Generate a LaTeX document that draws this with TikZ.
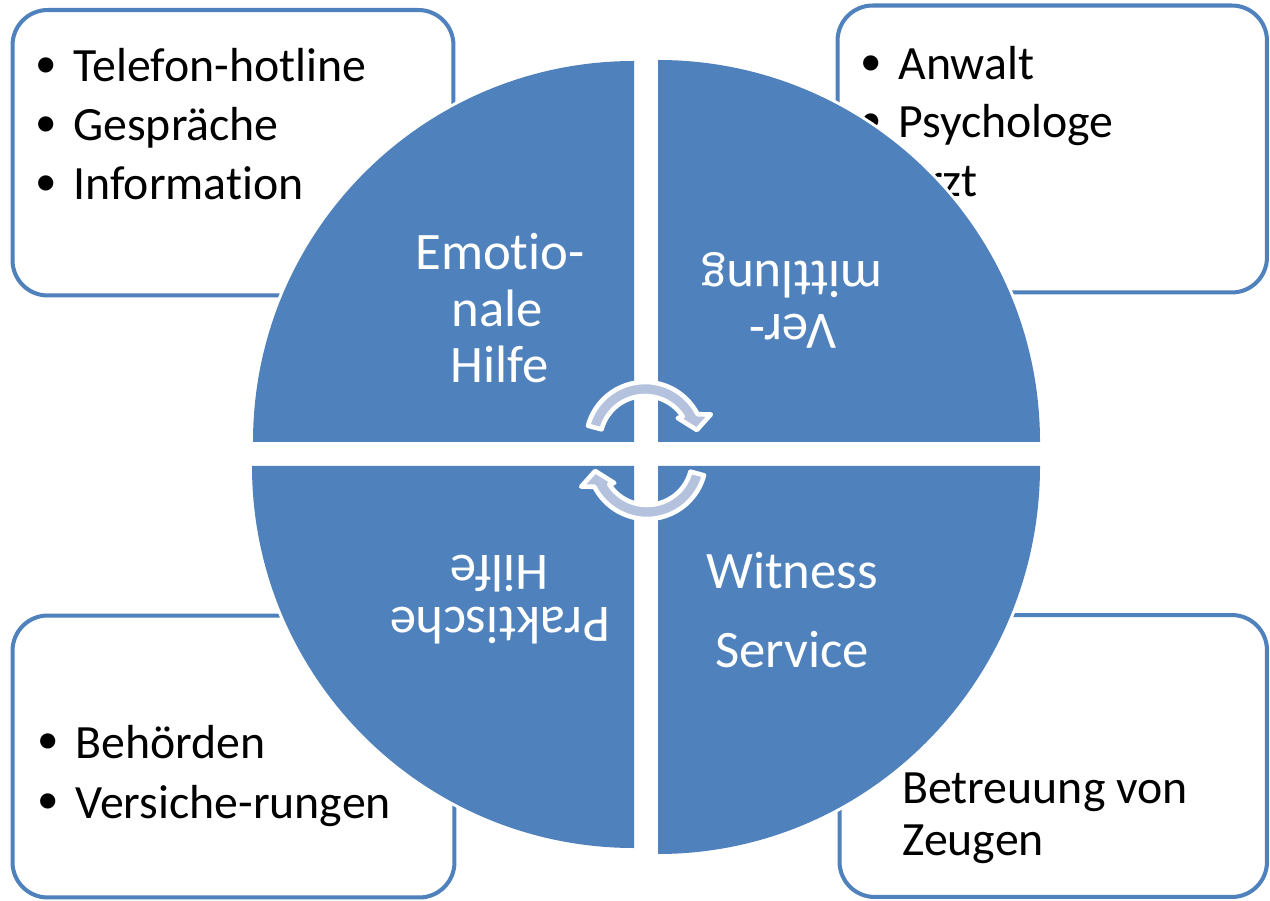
\documentclass[tikz,border=0pt]{standalone}
\usepackage{fontspec}
\setmainfont{Carlito}[Ligatures={NoCommon,NoContextual,NoRare},Contextuals=NoAlternate]
\definecolor{qblue}{HTML}{4F81BD}
\definecolor{arrowfill}{RGB}{180,194,222}
\newcommand\bul{\llap{\raisebox{2.8pt}{\scalebox{0.9}{•}}\hspace{9.5pt}}}
\begin{document}
\begin{tikzpicture}[x=0.02cm,y=-0.02cm,
  box/.style={draw=qblue, line width=2.3pt, rounded corners=20pt, fill=white, inner sep=0pt},
  boxtext/.style={anchor=base west, inner sep=0pt, font=\fontsize{27.2}{32}\selectfont, text=black},
  quad/.style={fill=qblue, preaction={draw=white, line width=3.4pt}},
  qtext/.style={anchor=base, inner sep=0pt, text=white, font=\fontsize{30}{36}\selectfont},
  cyc/.style={fill=arrowfill, draw=white, line width=2.6pt, line join=round}]
\useasboundingbox (0,0) rectangle (1270,901);
% corner boxes
\node[box, minimum width=8.82cm, minimum height=5.71cm] (tlbox) at (233,152.75) {};
\node[box, minimum width=8.59cm, minimum height=5.74cm] (trbox) at (1052.25,149) {};
\node[box, minimum width=8.84cm, minimum height=5.64cm] (blbox) at (233.5,756.5) {};
\node[box, minimum width=8.55cm, minimum height=5.64cm] (brbox) at (1053.25,756) {};
% box texts
\node[boxtext] (tl1) at (73,82) {\bul Telefon-hotline};
\node[boxtext] (tl2) at (73,141) {\bul Gespräche};
\node[boxtext] (tl3) at (73,200) {\bul Information};
\node[boxtext] (tr1) at (898,80) {\bul Anwalt};
\node[boxtext] (tr2) at (898,138) {\bul Psychologe};
\node[boxtext] (tr3) at (898,197) {\bul Arzt};
\node[boxtext] (bl1) at (75,758) {\bul Behörden};
\node[boxtext] (bl2) at (75,818) {\bul Versiche-rungen};
\node[boxtext] (br1) at (902,803) {Betreuung von};
\node[boxtext] (br2) at (902,855) {Zeugen};
% quadrants
\path[quad] (634,442) -- (253,442) arc[start angle=180, end angle=270, radius=381] -- cycle;
\path[quad] (658,442) -- (658,60) arc[start angle=270, end angle=360, radius=382] -- cycle;
\path[quad] (658,466) -- (1040,466) arc[start angle=0, end angle=90, x radius=382, y radius=388] -- cycle;
\path[quad] (634,466) -- (634,848) arc[start angle=90, end angle=180, radius=382] -- cycle;
% quadrant texts
\node[qtext] (q1a) at (500,270) {Emotio-};
\node[qtext] (q1b) at (497,327) {nale};
\node[qtext] (q1c) at (500,383) {Hilfe};
\node[qtext, rotate=180] (q2a) at (793,315) {Ver-};
\node[qtext, rotate=180] (q2b) at (792,262) {mittlung};
\node[qtext] (q3a) at (792,588) {Witness};
\node[qtext] (q3b) at (792,667) {Service};
\node[qtext, rotate=180] (q4a) at (500,607) {Praktische};
\node[qtext, rotate=180] (q4b) at (499,555) {Hilfe};
% cycle arrows
\begin{scope}[shift={(645,441)}]
\path[cyc] (195:59) arc[start angle=195, end angle=333, radius=59] -- (338:71) -- (348:53) -- (325:40) -- (327:45) arc[start angle=327, end angle=195, radius=45] -- cycle;
\end{scope}
\begin{scope}[shift={(647,460)}, rotate=180]
\path[cyc] (195:59) arc[start angle=195, end angle=333, radius=59] -- (338:71) -- (348:53) -- (325:40) -- (327:45) arc[start angle=327, end angle=195, radius=45] -- cycle;
\end{scope}
\end{tikzpicture}
\end{document}
